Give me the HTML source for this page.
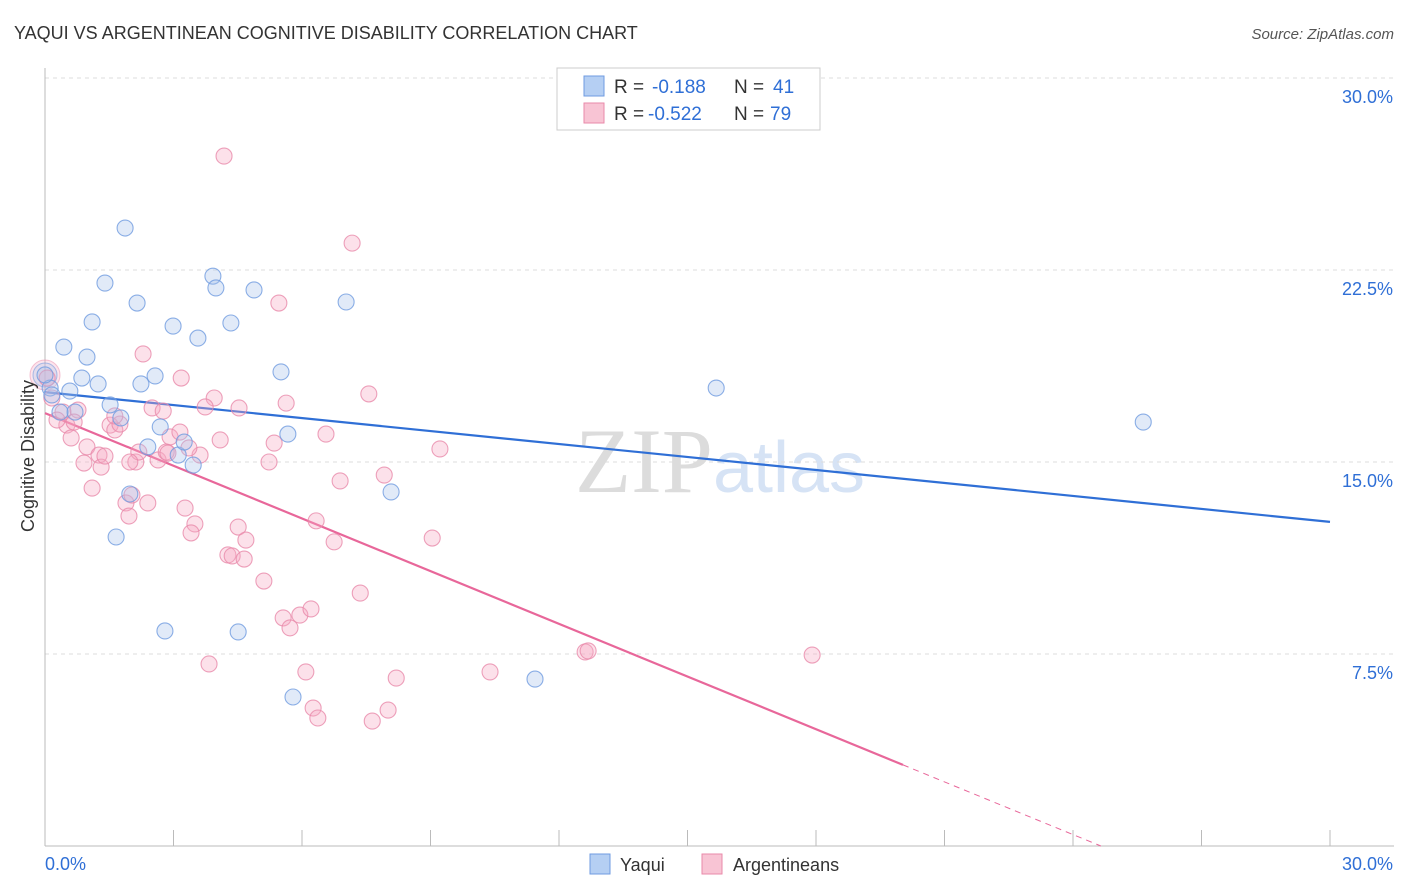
<!DOCTYPE html>
<html><head><meta charset="utf-8"><style>
body{margin:0;background:#fff;font-family:"Liberation Sans",sans-serif}
svg{display:block}
</style></head><body>
<svg id="chart" width="1406" height="892">
<text x="14" y="39" font-size="18" fill="#333">YAQUI VS ARGENTINEAN COGNITIVE DISABILITY CORRELATION CHART</text>
<text x="1394" y="39" font-size="15" fill="#555" text-anchor="end" font-style="italic">Source: ZipAtlas.com</text>
<text x="720" y="492" font-size="92" fill="#e4e4e4" text-anchor="middle" font-family="Liberation Serif"><tspan fill="#dcdcdc">ZIP</tspan><tspan fill="#d6e3f5" font-family="Liberation Sans" font-size="72">atlas</tspan></text>
<g id="grid"></g>
<g id="axes"></g>
<g id="lines"></g>
<g id="pts"></g>
<text transform="translate(34,456) rotate(-90)" font-size="18" fill="#333" text-anchor="middle">Cognitive Disability</text>
<g>
<rect x="557" y="68" width="263" height="62" fill="#fff" stroke="#ccc"/>
<rect x="584" y="76" width="20" height="20" fill="#b5cff3" stroke="#6f9be0"/>
<rect x="584" y="103" width="20" height="20" fill="#f8c4d4" stroke="#e98aaa"/>
<text x="614" y="93" font-size="19" fill="#333">R =</text>
<text x="652" y="93" font-size="19" fill="#2f6fd6">-0.188</text>
<text x="734" y="93" font-size="19" fill="#333">N =</text>
<text x="773" y="93" font-size="19" fill="#2f6fd6">41</text>
<text x="614" y="120" font-size="19" fill="#333">R =</text>
<text x="648" y="120" font-size="19" fill="#2f6fd6">-0.522</text>
<text x="734" y="120" font-size="19" fill="#333">N =</text>
<text x="770" y="120" font-size="19" fill="#2f6fd6">79</text>
</g>
<g>
<rect x="590" y="854" width="20" height="20" fill="#b5cff3" stroke="#6f9be0"/>
<text x="620" y="871" font-size="18" fill="#333">Yaqui</text>
<rect x="702" y="854" width="20" height="20" fill="#f8c4d4" stroke="#e98aaa"/>
<text x="733" y="871" font-size="18" fill="#333">Argentineans</text>
</g>
</svg>
<script>
const yTicks=[7.5,15,22.5,30];
const yTickLabels=["7.5%","15.0%","22.5%","30.0%"];
const xTickCount=10;
const blueX=[1.87,1.40,2.15,1.10,0.44,0.98,0.86,1.24,0.58,0.12,0.0,0.16,0.70,0.35,1.52,1.77,2.24,2.57,2.99,3.57,3.92,3.99,4.34,4.88,7.03,5.51,5.67,2.69,2.40,3.11,3.25,3.46,1.98,1.66,8.08,2.80,4.51,5.79,11.44,15.67,25.64];
const blueY=[24.14,21.99,21.21,20.47,19.49,19.10,18.28,18.05,17.77,17.89,18.40,17.62,16.95,16.95,17.23,16.72,18.05,18.36,20.31,19.84,22.26,21.80,20.43,21.72,21.25,18.52,16.09,16.37,15.59,15.27,15.78,14.88,13.75,12.07,13.83,8.40,8.36,5.82,6.52,17.89,16.56];
const pinkX=[4.18,7.17,5.46,2.29,3.18,7.56,3.95,4.53,3.74,2.50,2.76,5.63,0.05,0.16,0.42,0.77,0.51,0.61,0.98,0.91,1.26,1.31,1.40,1.10,1.52,1.63,1.75,2.12,2.19,2.64,2.92,3.15,2.83,3.62,4.09,5.35,5.23,6.56,7.92,9.22,6.89,2.40,1.89,1.96,3.27,3.50,3.41,4.51,4.69,4.27,4.37,4.65,5.11,6.33,6.75,7.36,9.04,5.56,5.95,6.21,5.72,3.83,6.09,8.20,10.39,12.61,12.68,17.91,6.26,6.37,7.64,8.01,0.28,2.03,2.87,1.98,0.68,1.63,3.36];
const pinkY=[26.95,23.55,21.21,19.22,18.28,17.66,17.50,17.11,17.15,17.11,16.99,17.30,18.28,17.50,16.95,17.03,16.44,15.94,15.59,14.96,15.27,14.80,15.23,13.98,16.44,16.25,16.48,15.00,15.39,15.08,15.98,16.17,15.39,15.27,15.86,15.74,15.00,16.09,14.49,15.51,14.26,13.40,13.40,12.89,13.20,12.58,12.23,12.46,11.95,11.37,11.33,11.21,10.35,12.70,11.88,9.88,12.03,8.91,9.02,9.26,8.52,7.11,6.80,6.56,6.80,7.58,7.62,7.46,5.39,5.00,4.88,5.31,16.64,13.71,15.35,15.00,16.56,16.80,15.55];
const blueTrend=[17.73,12.66];
const pinkTrend=[16.91,-0.686];
const pinkSolidEnd=20.03;
const sx=v=>45+v/30*1285, sy=v=>846-v/30*768;
const NS="http://www.w3.org/2000/svg";
function mk(tag,attrs,parent){const e=document.createElementNS(NS,tag);for(const k in attrs)e.setAttribute(k,attrs[k]);document.getElementById(parent).appendChild(e);return e;}
yTicks.forEach((t,i)=>{
 const g=mk('line',{x1:45,x2:1394,y1:sy(t),y2:sy(t),stroke:'#ddd','stroke-dasharray':'4,4'},'grid');
 
 
 const l=mk('text',{x:1393,y:sy(t)+25,'font-size':18,fill:'#2f6fd6','text-anchor':'end'},'axes');
 l.textContent=yTickLabels[i];
 
 
});
const xa=mk('line',{x1:45,x2:1394,y1:846,y2:846,stroke:'#bbb'},'axes');


const ya=mk('line',{x1:45,x2:45,y1:68,y2:846,stroke:'#bbb'},'axes');


for(let i=0;i<=xTickCount;i++){
 const t=mk('line',{x1:sx(i*3),x2:sx(i*3),y1:830,y2:846,stroke:'#bbb'},'axes');
 
 
}
const x0=mk('text',{x:45,y:870,'font-size':18,fill:'#2f6fd6'},'axes');x0.textContent='0.0%';


const x1=mk('text',{x:1393,y:870,'font-size':18,fill:'#2f6fd6','text-anchor':'end'},'axes');x1.textContent='30.0%';


const bigP=mk('circle',{cx:sx(0),cy:sy(18.4),r:15,fill:'#f6a9c2','fill-opacity':0.3,stroke:'#e98aaa','stroke-opacity':0.5},'pts');


const bigB=mk('circle',{cx:sx(0),cy:sy(18.4),r:12,fill:'#a9c4ec','fill-opacity':0.3,stroke:'#5f8fdc','stroke-opacity':0.5},'pts');


function pts(X,Y,fill,stroke,name){X.forEach((x,i)=>{
 const c=mk('circle',{cx:sx(x),cy:sy(Y[i]),r:8,fill:fill,'fill-opacity':0.35,stroke:stroke,'stroke-width':1.1,'stroke-opacity':0.8},'pts');
 
 
});}
pts(pinkX,pinkY,'#f6a9c2','#e98aaa','argentinean-point');
pts(blueX,blueY,'#a9c4ec','#6f9be0','yaqui-point');
const bl=mk('line',{x1:sx(0),y1:sy(blueTrend[0]),x2:sx(30),y2:sy(blueTrend[1]),stroke:'#2f6fd6','stroke-width':2.2},'lines');


const pe=pinkTrend[0]+pinkTrend[1]*pinkSolidEnd;
const pl=mk('line',{x1:sx(0),y1:sy(pinkTrend[0]),x2:sx(pinkSolidEnd),y2:sy(pe),stroke:'#e8679a','stroke-width':2.2},'lines');


const xz=-pinkTrend[0]/pinkTrend[1];
const pd=mk('line',{x1:sx(pinkSolidEnd),y1:sy(pe),x2:sx(xz),y2:sy(0),stroke:'#e8679a','stroke-width':1,'stroke-dasharray':'6,5'},'lines');


</script>
</body></html>
